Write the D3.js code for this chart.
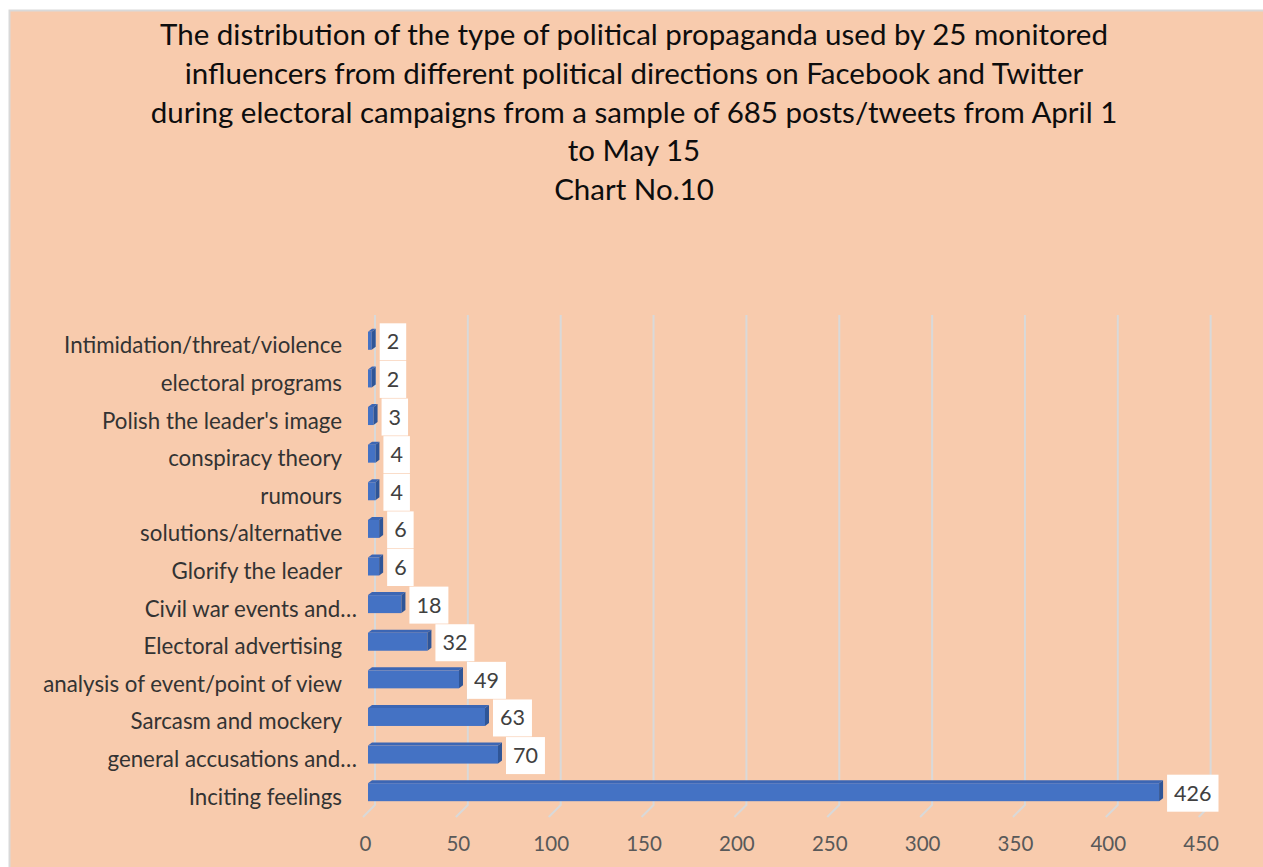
<!DOCTYPE html>
<html>
<head>
<meta charset="utf-8">
<script src="https://cdn.jsdelivr.net/npm/d3@7"></script>
<style>
  body { margin: 0; background: #ffffff; }
  svg text { font-family: Lato, "Open Sans", sans-serif; }
</style>
</head>
<body>
<div id="chart"></div>
<script>
// chart data, top row first
var categories = [
  "Intimidation/threat/violence",
  "electoral programs",
  "Polish the leader's image",
  "conspiracy theory",
  "rumours",
  "solutions/alternative",
  "Glorify the leader",
  "Civil war events and\u2026",
  "Electoral advertising",
  "analysis of event/point of view",
  "Sarcasm and mockery",
  "general accusations and\u2026",
  "Inciting feelings"
];
var counts = [2, 2, 3, 4, 4, 6, 6, 18, 32, 49, 63, 70, 426];
var tickValues = [0, 50, 100, 150, 200, 250, 300, 350, 400, 450];
var titleLines = [
  "The distribution of the type of political propaganda used by 25 monitored",
  "influencers from different political directions on Facebook and Twitter",
  "during electoral campaigns from a sample of 685 posts/tweets from April 1",
  "to May 15",
  "Chart No.10"
];

var W = 1263, H = 867;
var dx = 4, dy = 3;   // depth of the bar's 3d faces

var svg = d3.select("#chart")
  .append("svg")
  .attr("width", W)
  .attr("height", H);

// peach panel with its grey frame
svg.append("rect")
  .attr("x", 9.5).attr("y", 10.5)
  .attr("width", W).attr("height", H)
  .attr("fill", "#F8CBAD")
  .attr("stroke", "#d9d9d9")
  .attr("stroke-width", 2);

svg.append("g")
  .selectAll("text")
  .data(titleLines)
  .enter()
  .append("text")
  .attr("x", 634)
  .attr("y", function(d, i) { return 45 + i * 38.8; })
  .attr("text-anchor", "middle")
  .attr("font-size", 29.5)
  .attr("fill", "#0d0d0d")
  .text(function(d) { return d; });

var x = d3.scaleLinear().domain([0, 450]).range([368, 368 + 450 * 1.857]);
var y = d3.scaleBand().domain(categories).range([327, 816]);
var half = y.bandwidth() / 2;

// gridlines: back wall then floor diagonal
var grid = svg.append("g");
grid.selectAll("path")
  .data(tickValues)
  .enter()
  .append("path")
  .attr("d", function(d) {
    return "M" + (x(d) + 7) + ",315 L" + (x(d) + 7) + ",805 L" + (x(d) - 5) + ",817";
  })
  .attr("fill", "none")
  .attr("stroke", "#d9d9d9")
  .attr("stroke-width", 2);

// value axis labels
var xAxis = d3.axisBottom(x).tickValues(tickValues).tickSize(0).tickPadding(0);
var ax = svg.append("g")
  .attr("transform", "translate(-3,836)")
  .call(xAxis);
ax.select(".domain").remove();
ax.selectAll("text")
  .attr("font-size", 20.5)
  .attr("fill", "#595959")
  .attr("dy", "0.71em");

// category labels (cut-off ones run past the edge with their ellipsis)
svg.append("g")
  .selectAll("text")
  .data(categories)
  .enter()
  .append("text")
  .attr("x", function(d) { return d.slice(-1) == "\u2026" ? 357 : 342; })
  .attr("y", function(d) { return y(d) + half + 7.5; })
  .attr("text-anchor", "end")
  .attr("font-size", 22.3)
  .attr("fill", "#333333")
  .text(function(d) { return d; });

// bars
var bar = svg.append("g")
  .selectAll("g")
  .data(categories)
  .enter()
  .append("g")
  .attr("transform", function(d) { return "translate(0," + (y(d) + half) + ")"; });

var top0 = -14, bh = 18;

bar.append("path")   // top face
  .attr("d", function(d, i) {
    var x0 = x(0), x1 = x(counts[i]);
    return "M" + x0 + "," + top0 + " L" + (x0 + dx) + "," + (top0 - dy) +
      " L" + (x1 + dx) + "," + (top0 - dy) + " L" + x1 + "," + top0 + "Z";
  })
  .attr("fill", "#3c66b4");

bar.append("rect")   // front face
  .attr("x", x(0))
  .attr("y", top0)
  .attr("width", function(d, i) { return x(counts[i]) - x(0); })
  .attr("height", bh)
  .attr("fill", "#4472C4");

bar.append("path")   // end face
  .attr("d", function(d, i) {
    var x1 = x(counts[i]);
    return "M" + x1 + "," + top0 + " L" + (x1 + dx) + "," + (top0 - dy) +
      " L" + (x1 + dx) + "," + (top0 + bh - dy) + " L" + x1 + "," + (top0 + bh) + "Z";
  })
  .attr("fill", "#2f5597");

// value labels in white boxes
var lab = bar.append("g")
  .attr("transform", function(d, i) { return "translate(" + (x(counts[i]) + 8) + ",-4)"; });

var box = lab.append("rect")
  .attr("y", -18.5)
  .attr("height", 37)
  .attr("fill", "#ffffff");

var val = lab.append("text")
  .attr("y", 7.5)
  .attr("font-size", 21.5)
  .attr("fill", "#404040")
  .attr("text-anchor", "middle")
  .text(function(d, i) { return counts[i]; });

val.each(function() {
  var w = this.getComputedTextLength() + 14;
  d3.select(this).attr("x", w / 2);
  d3.select(this.parentNode).select("rect").attr("width", w);
});
</script>
</body>
</html>
